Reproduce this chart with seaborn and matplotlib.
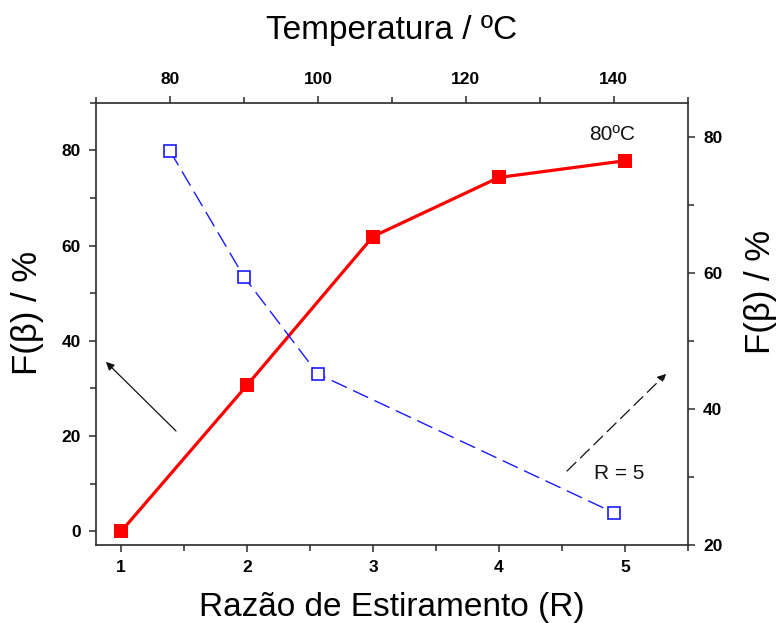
import matplotlib
matplotlib.use("Agg")
import matplotlib.pyplot as plt
import seaborn as sns
import numpy as np
from matplotlib.ticker import MultipleLocator

sns.set_style("ticks")
plt.rcParams["font.family"] = ["Liberation Sans", "DejaVu Sans"]
plt.rcParams["text.color"] = "black"
plt.rcParams["axes.labelcolor"] = "black"
plt.rcParams["xtick.labelcolor"] = "black"
plt.rcParams["ytick.labelcolor"] = "black"

# Stretch ratio series (bottom / left axes)
razao = [1, 2, 3, 4, 5]
f_beta_razao = [0.0, 30.7, 61.9, 74.3, 77.8]

# Temperature series (top / right axes)
temperatura = [80, 90, 100, 140]
f_beta_temp = [77.9, 59.4, 45.1, 24.7]

fig = plt.figure(figsize=(7.78, 6.23), dpi=100)
pos = [0.1234, 0.1257, 0.7606, 0.7095]
ax = fig.add_axes(pos)
ax2 = fig.add_axes(pos, frameon=False)

edge = "#2a2a2a"

sns.lineplot(x=razao, y=f_beta_razao, ax=ax, color="#ff0000", linewidth=2.3,
             marker="s", markersize=9.5, markerfacecolor="#ff0000",
             markeredgecolor="#ff0000", markeredgewidth=0)

sns.lineplot(x=temperatura, y=f_beta_temp, ax=ax2, color="#1a1aff", linewidth=1.0,
             linestyle=(0, (12, 5)), marker="s", markersize=8,
             markerfacecolor="white", markeredgecolor="#1a1aff",
             markeredgewidth=1.2)

ax.set_xlim(0.8, 5.5)
ax.set_ylim(-2.8, 90)
ax2.set_xlim(70, 150)
ax2.set_ylim(20, 85)

ax.xaxis.set_major_locator(MultipleLocator(1))
ax.xaxis.set_minor_locator(MultipleLocator(0.5))
ax.yaxis.set_major_locator(MultipleLocator(20))
ax.yaxis.set_minor_locator(MultipleLocator(10))
ax2.xaxis.set_major_locator(MultipleLocator(20))
ax2.xaxis.set_minor_locator(MultipleLocator(10))
ax2.yaxis.set_major_locator(MultipleLocator(20))
ax2.yaxis.set_minor_locator(MultipleLocator(10))

ax2.xaxis.tick_top()
ax2.yaxis.tick_right()
ax2.xaxis.set_label_position("top")
ax2.yaxis.set_label_position("right")

for s in ax.spines.values():
    s.set_visible(True)
    s.set_color(edge)
    s.set_linewidth(1.2)

for a in (ax, ax2):
    a.tick_params(which="major", direction="out", length=5, width=1.1,
                  color=edge, labelsize=12.5, pad=6)
    a.tick_params(which="minor", direction="out", length=4, width=1.1,
                  color=edge)
    for lab in a.get_xticklabels() + a.get_yticklabels():
        lab.set_fontweight("bold")
ax.tick_params(top=False, right=False, which="both")
ax2.tick_params(bottom=False, left=False, which="both")

ax.set_xlabel("Razão de Estiramento (R)", fontsize=24, labelpad=12)
ax2.set_xlabel("Temperatura / ºC", fontsize=24, labelpad=24)

ylab_left = ax.set_ylabel("F(β) / %", fontsize=25)
ylab_right = ax2.set_ylabel("F(β) / %", fontsize=25)
for lab in (ylab_left, ylab_right):
    lab.set_verticalalignment("center")
    lab.set_horizontalalignment("center")
ax.yaxis.set_label_coords(-0.1158, 0.524)
ax2.yaxis.set_label_coords(1.1223, 0.571)

ax.text(0.8715, 0.927, "80ºC", transform=ax.transAxes, fontsize=15,
        ha="center", va="center", color="#111111")
ax.text(0.884, 0.1615, "R = 5", transform=ax.transAxes, fontsize=15,
        ha="center", va="center", color="#111111")

ax.annotate("", xy=(0.0135, 0.418), xytext=(0.1386, 0.2527),
            xycoords="axes fraction", textcoords="axes fraction",
            arrowprops=dict(arrowstyle="-|>", color="#111111", lw=0.9,
                            mutation_scale=12))
ax.annotate("", xy=(0.9667, 0.3907), xytext=(0.7926, 0.1622),
            xycoords="axes fraction", textcoords="axes fraction",
            arrowprops=dict(arrowstyle="-|>", color="#111111", lw=0.9,
                            linestyle=(0, (10, 5)), mutation_scale=12))

fig.savefig("out.png", dpi=100)
